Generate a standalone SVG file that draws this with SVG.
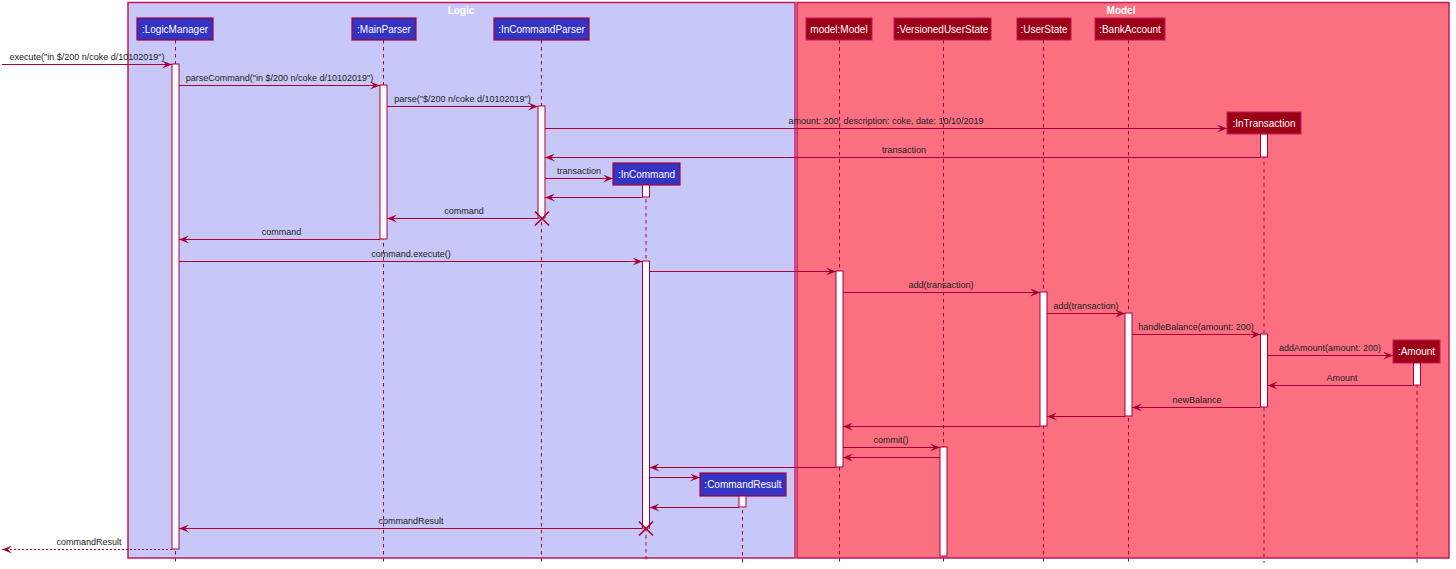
<svg xmlns="http://www.w3.org/2000/svg" width="1456" height="569" viewBox="0 0 1456 569">
<style>
.frameL{fill:#C8C8F8;stroke:#C2185B;stroke-width:1.5}
.frameM{fill:#FA7080;stroke:#C2185B;stroke-width:1.5}
.ftitle{font-family:"Liberation Sans",Arial,sans-serif;font-size:10px;font-weight:bold;fill:#FFFFFF;text-anchor:middle}
.pL{fill:#3333C4;stroke:#A80036;stroke-width:1.2}
.pM{fill:#9D0016;stroke:#C2185B;stroke-width:1}
.pt{font-family:"Liberation Sans",Arial,sans-serif;font-size:10px;fill:#FFFFFF;text-anchor:middle}
.life{stroke:#A80036;stroke-width:1;stroke-dasharray:3.5,3.5;fill:none}
.act{fill:#FFFFFF;stroke:#A80036;stroke-width:1}
.msg{stroke:#A80036;stroke-width:1;fill:none;marker-end:url(#ah)}
.dot{stroke:#A80036;stroke-width:1;fill:none;stroke-dasharray:2,2;marker-end:url(#ah)}
.ml{font-family:"Liberation Sans",Arial,sans-serif;font-size:9px;fill:#222222;text-anchor:middle}
.x{stroke:#A80036;stroke-width:1.6}
</style>
<defs>
<marker id="ah" markerUnits="userSpaceOnUse" markerWidth="10" markerHeight="8" refX="10" refY="4" orient="auto">
<path d="M0,0 L10,4 L0,8 L4,4 Z" fill="#A80036"/>
</marker>
</defs>
<g id="frame-logic"><rect class="frameL" x="128" y="2.5" width="667" height="555.5"/><text class="ftitle" x="461" y="14">Logic</text></g>
<g id="frame-model"><rect class="frameM" x="797" y="2.5" width="652" height="555.5"/><text class="ftitle" x="1121" y="14">Model</text></g>

<g id="LogicManager"><line class="life" x1="175.5" y1="40" x2="175.5" y2="563"/><rect class="pL" x="137" y="18" width="76" height="22"/><text class="pt" x="175" y="33">:LogicManager</text><rect class="act" x="172" y="64" width="7" height="485"/></g>
<g id="MainParser"><line class="life" x1="383.5" y1="40" x2="383.5" y2="563"/><rect class="pL" x="352" y="18" width="64" height="22"/><text class="pt" x="384" y="33">:MainParser</text><rect class="act" x="380" y="85" width="7" height="154"/></g>
<g id="InCommandParser"><line class="life" x1="541.5" y1="40" x2="541.5" y2="563"/><rect class="pL" x="494" y="18" width="95" height="22"/><text class="pt" x="541.5" y="33">:InCommandParser</text><rect class="act" x="538" y="106" width="7" height="112"/></g>
<g id="InCommand"><line class="life" x1="646" y1="185" x2="646" y2="563"/><rect class="pL" x="613" y="163" width="67" height="22"/><text class="pt" x="646.5" y="178">:InCommand</text><rect class="act" x="642.5" y="185" width="7" height="12"/><rect class="act" x="642.5" y="261" width="7" height="267"/></g>
<g id="CommandResult"><line class="life" x1="742.5" y1="496" x2="742.5" y2="563"/><rect class="pL" x="700" y="473" width="86" height="23"/><text class="pt" x="743" y="488">:CommandResult</text><rect class="act" x="739" y="496" width="7" height="11"/></g>

<g id="Model"><line class="life" x1="839.5" y1="40" x2="839.5" y2="563"/><rect class="pM" x="806" y="18" width="66" height="22"/><text class="pt" x="839" y="33">model:Model</text><rect class="act" x="836" y="271" width="7" height="196"/></g>
<g id="VersionedUserState"><line class="life" x1="943.5" y1="40" x2="943.5" y2="563"/><rect class="pM" x="894" y="18" width="97" height="22"/><text class="pt" x="942.5" y="33">:VersionedUserState</text><rect class="act" x="940" y="447" width="7" height="109"/></g>
<g id="UserState"><line class="life" x1="1043.5" y1="40" x2="1043.5" y2="563"/><rect class="pM" x="1017" y="18" width="54" height="22"/><text class="pt" x="1044" y="33">:UserState</text><rect class="act" x="1040" y="292" width="7" height="134"/></g>
<g id="BankAccount"><line class="life" x1="1128.5" y1="40" x2="1128.5" y2="563"/><rect class="pM" x="1095" y="18" width="70" height="22"/><text class="pt" x="1130" y="33">:BankAccount</text><rect class="act" x="1125" y="313" width="7" height="103"/></g>
<g id="InTransaction"><line class="life" x1="1264" y1="134" x2="1264" y2="563"/><rect class="pM" x="1227" y="112" width="74" height="22"/><text class="pt" x="1264" y="127">:InTransaction</text><rect class="act" x="1260.5" y="134" width="7" height="23"/><rect class="act" x="1260.5" y="334" width="7" height="73"/></g>
<g id="Amount"><line class="life" x1="1417" y1="363" x2="1417" y2="563"/><rect class="pM" x="1393" y="340" width="47" height="23"/><text class="pt" x="1416.5" y="355">:Amount</text><rect class="act" x="1413.5" y="363" width="7" height="22"/></g>

<g id="connectors">
<line class="msg" x1="2" y1="64.5" x2="172" y2="64.5"/><text class="ml" x="87" y="60">execute("in $/200 n/coke d/10102019")</text>
<line class="msg" x1="179" y1="85.5" x2="380" y2="85.5"/><text class="ml" x="279.5" y="81">parseCommand("in $/200 n/coke d/10102019")</text>
<line class="msg" x1="387" y1="106.5" x2="538" y2="106.5"/><text class="ml" x="462.5" y="102">parse("$/200 n/coke d/10102019")</text>
<line class="msg" x1="545" y1="128.5" x2="1227" y2="128.5"/><text class="ml" x="886" y="124">amount: 200, description: coke, date: 10/10/2019</text>
<line class="msg" x1="1260.5" y1="157.5" x2="545" y2="157.5"/><text class="ml" x="904" y="153">transaction</text>
<line class="msg" x1="545" y1="178.5" x2="613" y2="178.5"/><text class="ml" x="579" y="174">transaction</text>
<line class="msg" x1="642.5" y1="197.5" x2="545" y2="197.5"/>
<line class="msg" x1="538" y1="218.5" x2="387" y2="218.5"/><text class="ml" x="464" y="214">command</text>
<line class="x" x1="535" y1="211.5" x2="549" y2="225.5"/><line class="x" x1="549" y1="211.5" x2="535" y2="225.5"/>
<line class="msg" x1="380" y1="239.5" x2="179" y2="239.5"/><text class="ml" x="281.5" y="235">command</text>
<line class="msg" x1="179" y1="261.5" x2="642.5" y2="261.5"/><text class="ml" x="411" y="257">command.execute()</text>
<line class="msg" x1="649.5" y1="271.5" x2="836" y2="271.5"/>
<line class="msg" x1="843" y1="292.5" x2="1040" y2="292.5"/><text class="ml" x="941" y="288">add(transaction)</text>
<line class="msg" x1="1047" y1="313.5" x2="1125" y2="313.5"/><text class="ml" x="1086" y="309">add(transaction)</text>
<line class="msg" x1="1132" y1="334.5" x2="1260.5" y2="334.5"/><text class="ml" x="1196" y="330">handleBalance(amount: 200)</text>
<line class="msg" x1="1267.5" y1="355.5" x2="1393" y2="355.5"/><text class="ml" x="1330" y="351">addAmount(amount: 200)</text>
<line class="msg" x1="1413.5" y1="385.5" x2="1267.5" y2="385.5"/><text class="ml" x="1342" y="381">Amount</text>
<line class="msg" x1="1260.5" y1="407.5" x2="1132" y2="407.5"/><text class="ml" x="1197" y="403">newBalance</text>
<line class="msg" x1="1125" y1="416.5" x2="1047" y2="416.5"/>
<line class="msg" x1="1040" y1="426.5" x2="843" y2="426.5"/>
<line class="msg" x1="843" y1="447.5" x2="940" y2="447.5"/><text class="ml" x="891" y="443">commit()</text>
<line class="msg" x1="940" y1="457.5" x2="843" y2="457.5"/>
<line class="msg" x1="836" y1="467.5" x2="649.5" y2="467.5"/>
<line class="msg" x1="649.5" y1="477.5" x2="700" y2="477.5"/>
<line class="msg" x1="739" y1="507.5" x2="649.5" y2="507.5"/>
<line class="msg" x1="642.5" y1="528.5" x2="179" y2="528.5"/><text class="ml" x="411" y="524">commandResult</text>
<line class="x" x1="639" y1="521.5" x2="653" y2="535.5"/><line class="x" x1="653" y1="521.5" x2="639" y2="535.5"/>
<line class="dot" x1="172" y1="549.5" x2="2" y2="549.5"/><text class="ml" x="89" y="545">commandResult</text>
</g>
</svg>
